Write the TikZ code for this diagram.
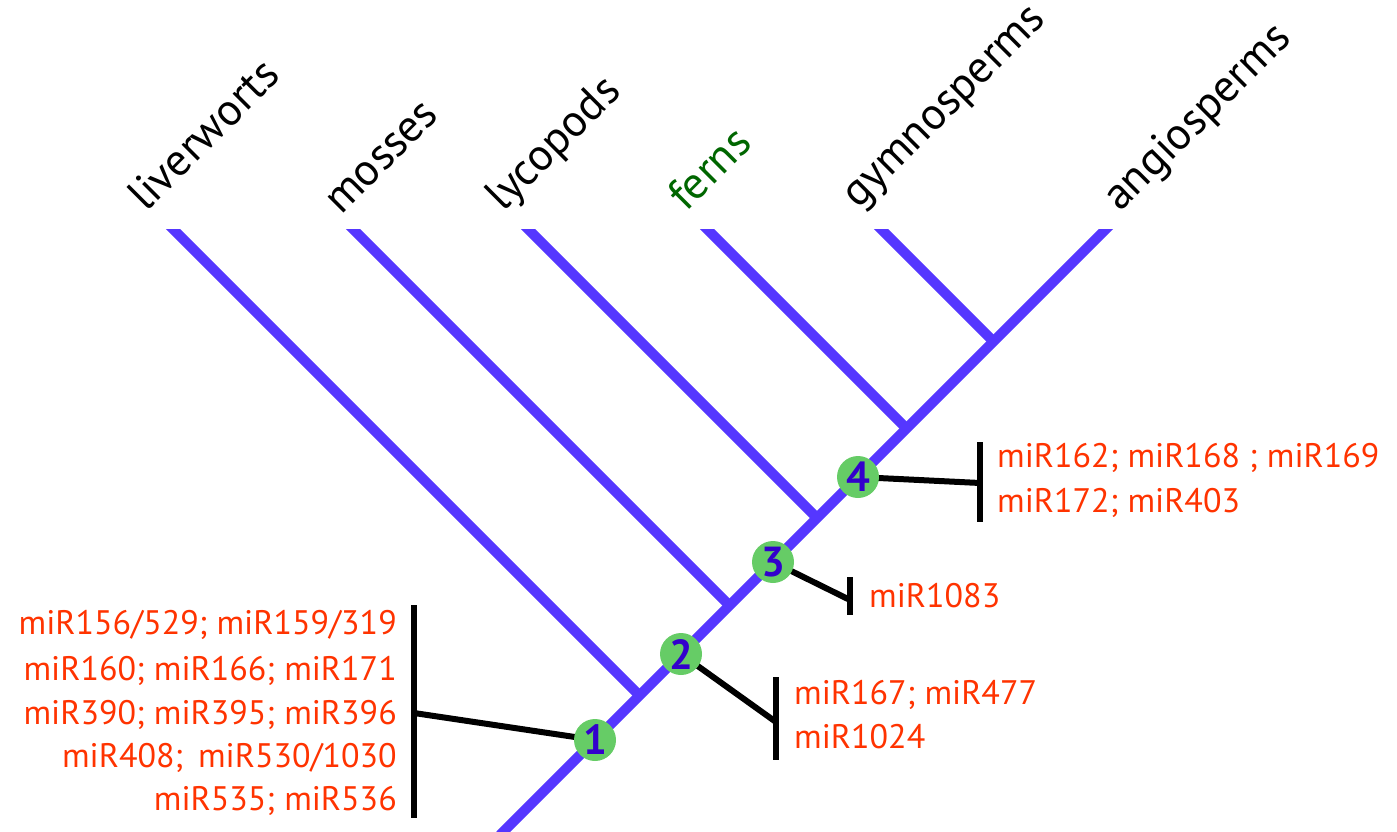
\documentclass[tikz,border=0pt]{standalone}
\usepackage{fontspec}
\setmainfont{PT Sans}
\definecolor{treeblue}{RGB}{85,55,255}
\definecolor{mirred}{RGB}{255,51,0}
\definecolor{nodegreen}{RGB}{102,204,102}
\definecolor{numblue}{RGB}{51,0,204}
\definecolor{ferngreen}{RGB}{0,102,0}
\begin{document}
\begin{tikzpicture}[x=1pt,y=-1pt,
  branch/.style={draw=treeblue,line width=10pt},
  bar/.style={draw=black,line width=6.5pt},
  link/.style={draw=black,line width=6pt},
  taxon/.style={rotate=45,anchor=base west,inner sep=0pt,font=\fontsize{45}{54}\selectfont},
  mir/.style={text=mirred,inner sep=0pt,font=\fontsize{34}{42}\selectfont},
  event/.style={circle,fill=nodegreen,minimum size=42pt,inner sep=0pt,text=numblue,font=\bfseries\fontsize{42}{42}\selectfont}]
\useasboundingbox (0,0) rectangle (1397,832);
% tree coordinates
\coordinate (root) at (500,835);
\coordinate (tAng) at (1117,218);
\coordinate (tLiv) at (162,218);
\coordinate (tMos) at (342,218);
\coordinate (tLyc) at (517,218);
\coordinate (tFer) at (696,218);
\coordinate (tGym) at (870,218);
\coordinate (jLiv) at (639.5,695.5);
\coordinate (jMos) at (729.5,605.5);
\coordinate (jLyc) at (817,518);
\coordinate (jFer) at (906.5,428.5);
\coordinate (jGym) at (993.5,341.5);
\begin{scope}
  \clip (0,229) rectangle (1397,840);
  \draw[branch] (root) -- (tAng);
  \draw[branch] (tLiv) -- (jLiv);
  \draw[branch] (tMos) -- (jMos);
  \draw[branch] (tLyc) -- (jLyc);
  \draw[branch] (tFer) -- (jFer);
  \draw[branch] (tGym) -- (jGym);
\end{scope}
% taxon labels
\node[taxon] (lLiv) at (146,213) {liverworts};
\node[taxon] (lMos) at (341,216) {mosses};
\node[taxon] (lLyc) at (503,213) {lycopods};
\node[taxon,text=ferngreen] (lFer) at (686,213) {ferns};
\node[taxon] (lGym) at (858,210) {gymnosperms};
\node[taxon] (lAng) at (1120,213) {angiosperms};
% event centres
\coordinate (c1) at (595,740);
\coordinate (c2) at (681,654);
\coordinate (c3) at (773,562);
\coordinate (c4) at (858,477);
% bars
\coordinate (b1t) at (414,605);
\coordinate (b1b) at (414,818);
\coordinate (b1m) at (414,713);
\coordinate (b2t) at (776,677);
\coordinate (b2b) at (776,760);
\coordinate (b2m) at (776,722);
\coordinate (b3t) at (850,577);
\coordinate (b3b) at (850,615);
\coordinate (b3m) at (850,600);
\coordinate (b4t) at (980,442);
\coordinate (b4b) at (980,522);
\coordinate (b4m) at (980,483);
\draw[bar] (b1t) -- (b1b);
\draw[bar] (b2t) -- (b2b);
\draw[bar] (b3t) -- (b3b);
\draw[bar] (b4t) -- (b4b);
\draw[link] (c1) -- (b1m);
\draw[link] (c2) -- (b2m);
\draw[link] (c3) -- (b3m);
\draw[link] (c4) -- (b4m);
\node[event] (e1) at (c1) {1};
\node[event] (e2) at (c2) {2};
\node[event] (e3) at (c3) {3};
\node[event] (e4) at (c4) {4};
% miRNA lists
\node[mir,anchor=base east] (m1a) at (397,634) {miR156/529; miR159/319};
\node[mir,anchor=base east] (m1b) at (397,680) {miR160; miR166; miR171};
\node[mir,anchor=base east] (m1c) at (397,724) {miR390; miR395; miR396};
\node[mir,anchor=base east] (m1d) at (397,767) {miR408;\, miR530/1030};
\node[mir,anchor=base east] (m1e) at (397,810) {miR535; miR536};
\node[mir,anchor=base west] (m2a) at (794,704) {miR167; miR477};
\node[mir,anchor=base west] (m2b) at (794,748) {miR1024};
\node[mir,anchor=base west] (m3a) at (869,607) {miR1083};
\node[mir,anchor=base west] (m4a) at (997,467) {miR162; miR168 ; miR169};
\node[mir,anchor=base west] (m4b) at (997,512) {miR172; miR403};
\end{tikzpicture}
\end{document}
